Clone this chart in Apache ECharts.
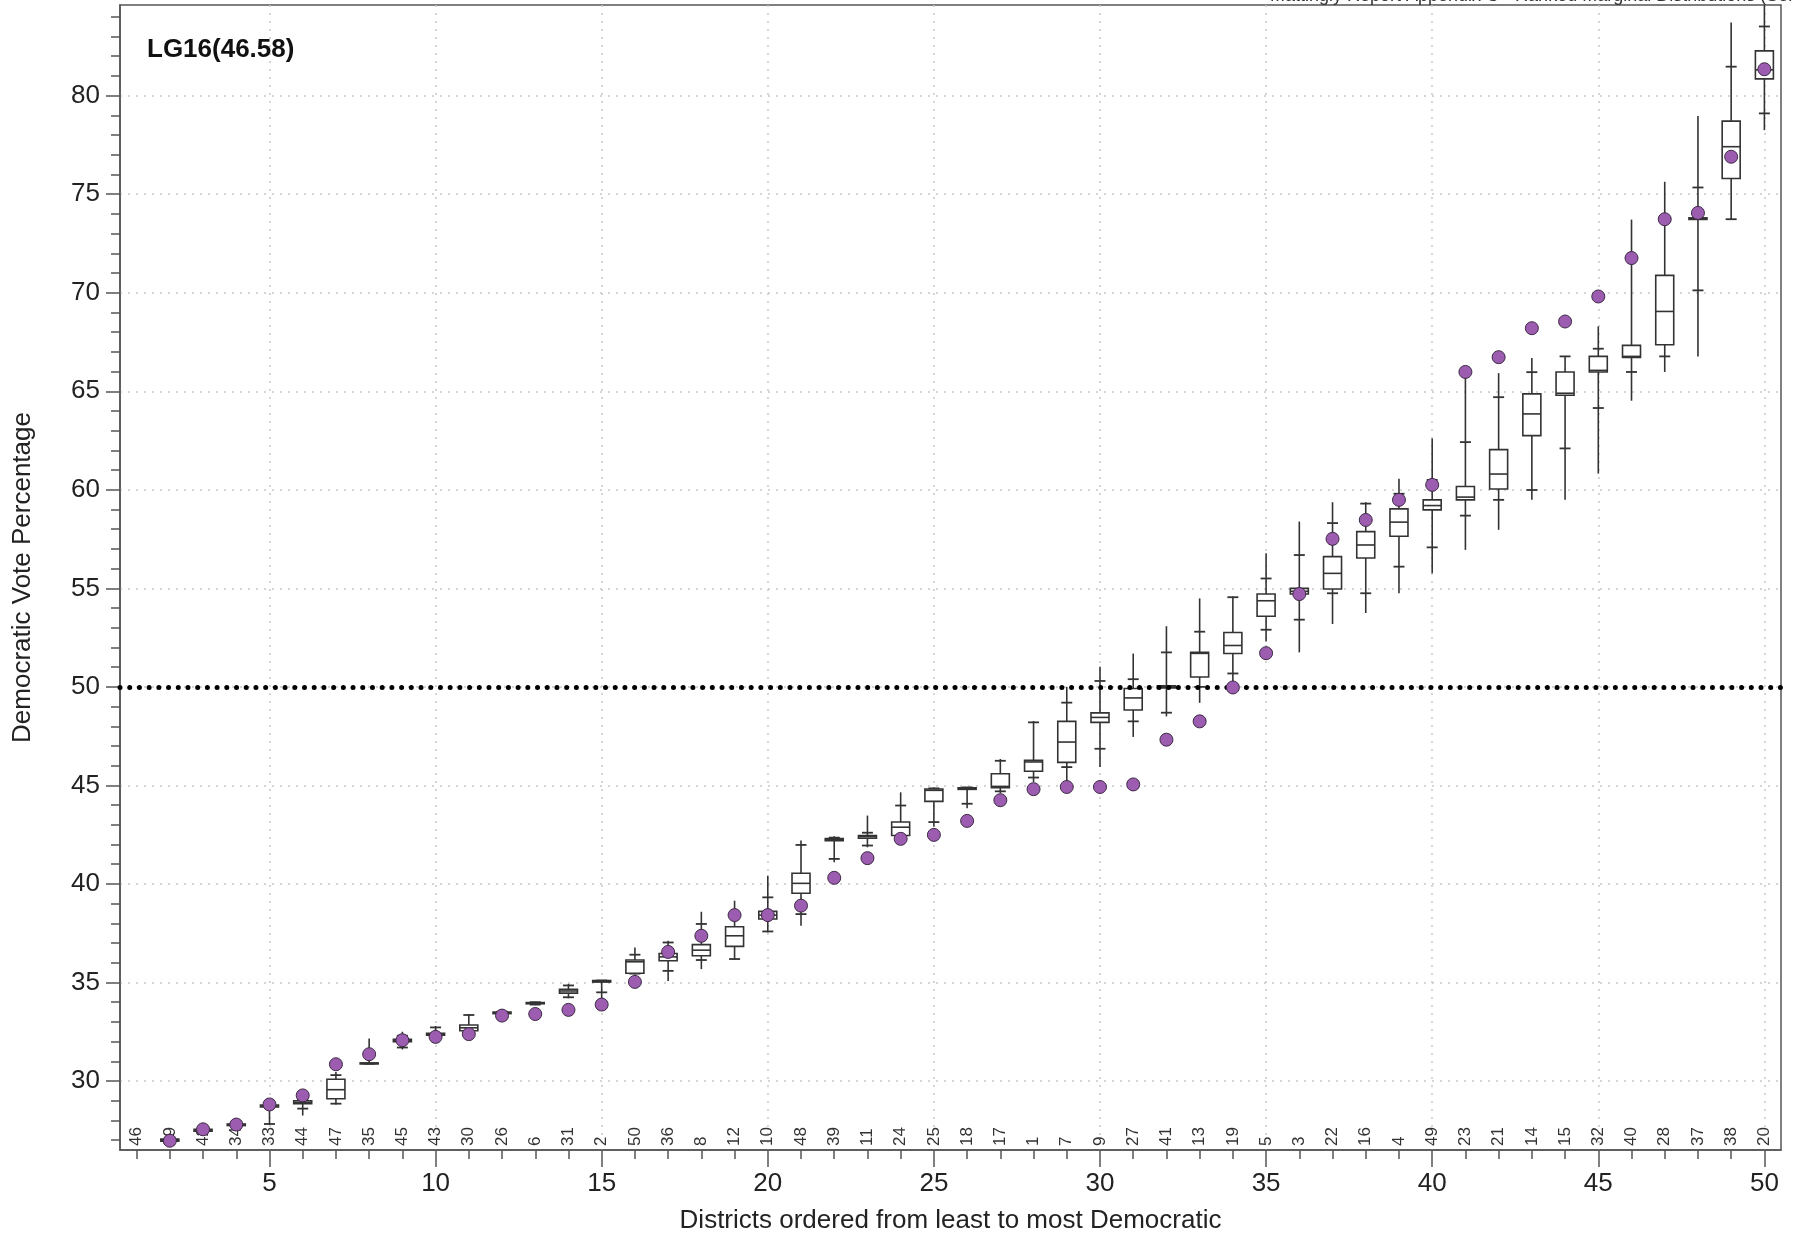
<!DOCTYPE html>
<html><head><meta charset="utf-8">
<script src="https://cdn.jsdelivr.net/npm/echarts@6/dist/echarts.min.js"></script>
<style>html,body{margin:0;padding:0;background:#fff}#c{width:1794px;height:1242px}</style>
</head><body><div id="c"></div>
<script>
const FONT = '"Liberation Sans", Arial, Helvetica, sans-serif';

const districtLabels = ['46','29','42','34','33','44','47','35','45','43','30','26','6','31','2','50','36','8','12','10','48','39','11','24','25','18','17','1','7','9','27','41','13','19','5','3','22','16','4','49','23','21','14','15','32','40','28','37','38','20'];
const ranks = [1,2,3,4,5,6,7,8,9,10,11,12,13,14,15,16,17,18,19,20,21,22,23,24,25,26,27,28,29,30,31,32,33,34,35,36,37,38,39,40,41,42,43,44,45,46,47,48,49,50];

const whiskerLow = [25.7,26.85,27.35,27.7,27.78,28.25,28.81,30.86,31.6,32.2,32.35,33.35,33.85,34.2,34.15,35.4,35.08,35.68,36.14,37.54,37.88,41.1,41.86,42.3,42.9,43.84,44.6,45.17,45.05,45.93,47.46,48.5,49.19,49.97,52.3,51.75,53.19,53.75,54.75,55.76,56.95,57.97,59.49,59.49,60.82,64.52,65.98,66.77,73.73,78.25];
const tickLow = [25.8,26.9,27.4,27.72,27.82,28.6,28.85,30.88,31.7,32.25,32.45,33.38,33.88,34.25,34.5,35.45,35.59,36.14,36.19,37.59,38.47,41.27,41.95,42.4,43.14,44.07,44.7,45.4,45.93,46.86,48.25,48.69,50.0,50.68,52.9,53.41,54.75,54.75,56.1,57.08,58.69,59.49,59.99,62.1,64.15,65.98,66.77,70.12,73.73,79.1];
const q1 = [25.9,26.95,27.45,27.74,28.68,28.85,29.10,30.87,32.0,32.33,32.55,33.42,33.92,34.46,35.02,35.47,36.10,36.36,36.83,38.22,39.53,42.2,42.32,42.46,44.19,44.8,44.88,45.72,46.17,48.2,48.83,49.95,50.5,51.69,53.58,54.71,54.97,56.54,57.64,58.98,59.49,60.04,62.75,64.8,65.98,66.72,67.36,73.72,75.8,80.85];
const median = [25.95,27.0,27.5,27.78,28.73,28.92,29.56,30.89,32.06,32.38,32.70,33.46,33.95,34.57,35.07,36.05,36.3,36.64,37.37,38.42,40.03,42.25,42.4,42.88,44.75,44.84,44.95,46.19,47.2,48.45,49.44,50.0,51.7,52.1,54.37,54.85,55.76,57.2,58.36,59.2,59.63,60.8,63.85,64.9,66.06,66.77,69.05,73.76,77.41,81.31];
const q3 = [26.0,27.05,27.55,27.82,28.78,29.0,30.09,30.92,32.12,32.42,32.84,33.5,33.98,34.66,35.1,36.14,36.47,36.92,37.83,38.61,40.54,42.3,42.46,43.14,44.82,44.88,45.59,46.27,48.25,48.68,49.92,50.05,51.75,52.76,54.71,55.0,56.61,57.88,59.03,59.49,60.17,62.04,64.87,65.98,66.77,67.33,70.88,73.8,78.71,82.27];
const tickHigh = [26.05,27.08,27.6,27.84,28.85,29.05,30.3,31.4,32.3,32.72,33.35,33.52,34.0,34.85,35.1,36.41,37.03,37.97,38.5,39.32,41.98,42.35,42.6,43.98,44.85,44.9,46.25,48.2,49.2,50.3,50.39,51.75,52.8,54.55,55.5,56.69,58.31,59.3,59.8,60.5,62.42,64.7,65.97,66.77,67.16,71.64,73.7,75.34,81.47,83.51];
const whiskerHigh = [26.1,27.1,27.65,27.86,28.9,29.1,30.46,32.16,32.5,32.79,33.4,33.55,34.02,34.93,35.12,36.78,37.12,38.59,39.15,40.42,42.2,42.42,43.47,44.65,44.9,44.92,46.34,48.27,50.0,51.02,51.69,53.08,54.49,54.59,56.78,58.39,59.37,59.37,60.56,62.6,65.97,65.92,66.69,66.77,68.29,73.71,75.63,78.97,83.71,84.6];
const enacted = [25.8,26.97,27.55,27.79,28.81,29.27,30.85,31.36,32.07,32.24,32.38,33.32,33.40,33.61,33.88,35.03,36.55,37.37,38.42,38.42,38.90,40.31,41.31,42.29,42.49,43.2,44.25,44.81,44.92,44.92,45.05,47.32,48.25,49.97,51.71,54.71,57.51,58.47,59.49,60.25,65.98,66.73,68.2,68.54,69.81,71.76,73.73,74.05,76.9,81.34];

const yMajorTicks = [30,35,40,45,50,55,60,65,70,75,80];
const xMajorTicks = [5,10,15,20,25,30,35,40,45,50];
const majorityLine = 50;
const panelTitle = 'LG16(46.58)';
const headerText = 'Mattingly Report Appendix C - Ranked Marginal Distributions (Senate)';

const boxData = ranks.map((r, k) => [r, whiskerLow[k], tickLow[k], q1[k], median[k], q3[k], tickHigh[k], whiskerHigh[k]]);
const dotData = ranks.map((r, k) => [r, enacted[k]]);

const INK = '#333';
function renderBox(params, api) {
  const x = api.value(0);
  const c = v => api.coord([x, v]);
  const pl = c(api.value(1)), ptl = c(api.value(2)), pq1 = c(api.value(3)),
        pm = c(api.value(4)), pq3 = c(api.value(5)), pth = c(api.value(6)), ph = c(api.value(7));
  const cx = pm[0], bw = 18, tw = 11;
  const ls = {stroke: INK, lineWidth: 1.6, fill: null};
  return {
    type: 'group',
    children: [
      {type: 'line', shape: {x1: cx, y1: pl[1], x2: cx, y2: ph[1]}, style: ls},
      {type: 'line', shape: {x1: cx - tw / 2, y1: ptl[1], x2: cx + tw / 2, y2: ptl[1]}, style: {stroke: INK, lineWidth: 1.8}},
      {type: 'line', shape: {x1: cx - tw / 2, y1: pth[1], x2: cx + tw / 2, y2: pth[1]}, style: {stroke: INK, lineWidth: 1.8}},
      {type: 'rect', shape: {x: cx - bw / 2, y: pq3[1], width: bw, height: Math.max(pq1[1] - pq3[1], 1)}, style: {stroke: INK, lineWidth: 1.6, fill: '#fff'}},
      {type: 'line', shape: {x1: cx - bw / 2, y1: pm[1], x2: cx + bw / 2, y2: pm[1]}, style: ls}
    ]
  };
}

const chart = echarts.init(document.getElementById('c'), null, {renderer: 'canvas'});
const axisColor = '#555';
chart.setOption({
  animation: false,
  backgroundColor: '#fff',
  textStyle: {fontFamily: FONT},
  title: {text: panelTitle, left: 142, top: 32, textStyle: {fontSize: 26, fontWeight: 'bold', color: '#111', fontFamily: FONT}},
  graphic: [{
    type: 'text', x: 1270, y: 5,
    style: {text: headerText, font: '18px ' + FONT, fill: '#333', verticalAlign: 'bottom', textVerticalAlign: 'bottom'}
  }],
  grid: {left: 120, right: 13, top: 5, bottom: 92, show: true, borderColor: axisColor, borderWidth: 1.5, backgroundColor: 'transparent'},
  xAxis: [{
    type: 'value', min: 0.5, max: 50.5, splitNumber: 10, position: 'bottom',
    axisLine: {show: true, onZero: false, lineStyle: {color: axisColor, width: 1.5}},
    axisTick: {show: true, customValues: xMajorTicks, length: 17, lineStyle: {color: axisColor, width: 1.5}},
    minorTick: {show: true, splitNumber: 5, length: 9, lineStyle: {color: axisColor, width: 1.5}},
    axisLabel: {customValues: xMajorTicks, fontSize: 26, color: '#222', margin: 21, fontFamily: FONT},
    splitLine: {show: true, lineStyle: {color: '#c8c8c8', width: 1.5, type: [2, 6]}},
    name: 'Districts ordered from least to most Democratic', nameLocation: 'middle', nameGap: 58,
    nameTextStyle: {fontSize: 26, color: '#222', fontFamily: FONT}
  }, {
    type: 'category', data: districtLabels, position: 'bottom', offset: 0,
    axisLine: {show: false}, axisTick: {show: false}, splitLine: {show: false},
    axisLabel: {inside: true, rotate: 90, interval: 0, fontSize: 17, color: '#333', margin: 4, fontFamily: FONT}
  }],
  yAxis: {
    type: 'value', min: 26.5, max: 84.6, splitNumber: 12,
    axisLine: {show: true, lineStyle: {color: axisColor, width: 1.5}},
    axisTick: {show: true, customValues: yMajorTicks, length: 14, lineStyle: {color: axisColor, width: 1.5}},
    minorTick: {show: true, splitNumber: 5, length: 9, lineStyle: {color: axisColor, width: 1.5}},
    axisLabel: {customValues: yMajorTicks, fontSize: 26, color: '#222', margin: 20, fontFamily: FONT},
    splitLine: {show: true, lineStyle: {color: '#c8c8c8', width: 1.5, type: [2, 6]}},
    name: 'Democratic Vote Percentage', nameLocation: 'middle', nameGap: 84,
    nameTextStyle: {fontSize: 26, color: '#222', fontFamily: FONT}
  },
  series: [{
    type: 'custom', xAxisIndex: 0, yAxisIndex: 0, data: boxData, renderItem: renderBox, clip: true, z: 3,
    encode: {x: 0, y: [1, 7]}
  }, {
    type: 'scatter', xAxisIndex: 0, yAxisIndex: 0, data: dotData, clip: true, z: 5,
    symbol: 'circle', symbolSize: 13,
    itemStyle: {color: '#9c5cb0', borderColor: '#3d2a45', borderWidth: 1, opacity: 1},
    markLine: {
      silent: true, symbol: ['none', 'none'], label: {show: false}, z: 4,
      lineStyle: {color: '#000', width: 5, type: [0.01, 9.7], cap: 'round', opacity: 1},
      data: [{yAxis: majorityLine}]
    }
  }]
});
</script></body></html>
